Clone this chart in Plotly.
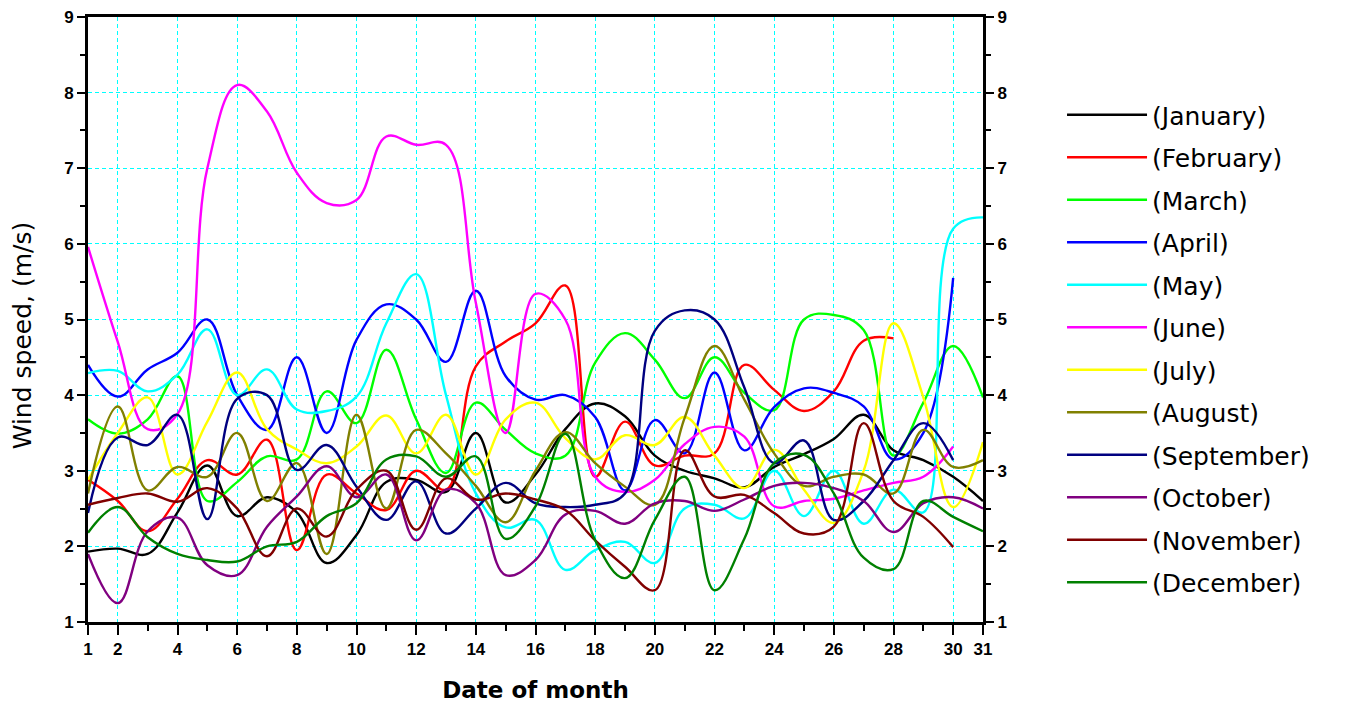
import plotly.graph_objects as go

days = list(range(1, 32))

month_names = ["(January)", "(February)", "(March)", "(April)", "(May)", "(June)",
               "(July)", "(August)", "(September)", "(October)", "(November)", "(December)"]

january = [1.93, 1.97, 1.90, 2.45, 3.07, 2.40, 2.65, 2.45, 1.78, 2.15, 2.85, 2.88, 2.72, 3.50, 2.58, 2.95,
           3.55, 3.89, 3.72, 3.20, 3.00, 2.90, 2.78, 3.05, 3.22, 3.42, 3.74, 3.27, 3.14, 2.92, 2.60]
february = [2.88, 2.60, 2.20, 2.63, 3.14, 2.95, 3.41, 1.95, 2.95, 2.70, 2.48, 3.00, 2.75, 4.38, 4.71, 4.95,
            5.45, 2.92, 3.65, 3.07, 3.20, 3.23, 4.40, 4.07, 3.79, 4.05, 4.72, 4.75]
march = [3.68, 3.49, 3.68, 4.25, 2.60, 2.85, 3.19, 3.15, 4.05, 3.63, 4.60, 3.68, 2.97, 3.90, 3.54, 3.23,
         3.20, 4.43, 4.82, 4.47, 3.96, 4.50, 4.03, 3.80, 5.00, 5.06, 4.86, 3.20, 3.90, 4.65, 3.97]
april = [4.40, 3.98, 4.34, 4.56, 5.00, 4.00, 3.54, 4.50, 3.50, 4.73, 5.20, 5.00, 4.44, 5.38, 4.25, 3.94,
         4.00, 3.71, 2.74, 3.67, 3.23, 4.30, 3.27, 3.84, 4.09, 4.03, 3.85, 3.15, 3.50, 5.55]
may = [4.29, 4.32, 4.05, 4.27, 4.87, 4.00, 4.34, 3.81, 3.79, 3.98, 4.95, 5.60, 4.00, 2.70, 2.25, 2.35,
       1.69, 1.95, 2.06, 1.78, 2.50, 2.55, 2.37, 3.00, 2.40, 3.00, 2.30, 2.75, 2.45, 6.20, 6.35]
june = [5.96, 4.70, 3.55, 3.75, 7.00, 8.10, 7.75, 6.94, 6.54, 6.58, 7.42, 7.31, 7.31, 5.22, 3.50, 5.34,
        5.00, 2.92, 2.72, 2.88, 3.35, 3.58, 3.45, 2.53, 2.60, 2.63, 2.74, 2.84, 2.92, 3.32]
july = [2.88, 3.50, 3.97, 2.95, 3.65, 4.30, 3.55, 3.28, 3.10, 3.32, 3.73, 3.23, 3.74, 2.95, 3.68, 3.90,
        3.43, 3.15, 3.47, 3.34, 3.71, 3.20, 2.77, 3.28, 2.75, 2.31, 3.00, 4.95, 3.97, 2.52, 3.38]
august = [2.70, 3.85, 2.74, 3.05, 2.92, 3.50, 2.60, 3.10, 1.90, 3.74, 2.50, 3.54, 3.23, 2.80, 2.32, 3.00,
          3.51, 3.10, 2.79, 2.55, 3.70, 4.65, 3.94, 3.23, 2.80, 2.92, 2.95, 2.70, 3.54, 3.05, 3.14]
september = [2.44, 3.44, 3.34, 3.74, 2.36, 3.95, 4.00, 3.01, 3.34, 2.79, 2.35, 2.86, 2.17, 2.50, 2.84, 2.57,
             2.52, 2.55, 2.70, 4.85, 5.12, 5.00, 4.10, 3.10, 3.40, 2.35, 2.60, 3.14, 3.63, 3.14]
october = [1.90, 1.25, 2.20, 2.38, 1.75, 1.62, 2.26, 2.66, 3.06, 2.65, 2.95, 2.08, 2.75, 2.57, 1.62, 1.82,
           2.42, 2.47, 2.30, 2.57, 2.60, 2.47, 2.62, 2.80, 2.84, 2.77, 2.60, 2.19, 2.57, 2.65, 2.50]
november = [2.55, 2.64, 2.70, 2.59, 2.77, 2.50, 1.87, 2.50, 2.13, 2.75, 3.00, 2.22, 2.90, 2.62, 2.70, 2.62,
            2.48, 2.08, 1.73, 1.42, 3.27, 2.66, 2.68, 2.44, 2.17, 2.26, 3.63, 2.60, 2.39, 1.99]
december = [2.18, 2.52, 2.12, 1.90, 1.82, 1.80, 2.00, 2.06, 2.40, 2.57, 3.15, 3.19, 2.92, 3.19, 2.10, 2.53,
            3.49, 2.08, 1.58, 2.35, 2.92, 1.42, 2.10, 3.10, 3.21, 2.70, 1.85, 1.70, 2.60, 2.39, 2.20]

series = [january, february, march, april, may, june, july, august, september, october, november, december]
colors = ["#000000", "#ff0000", "#00ff00", "#0000ff", "#00ffff", "#ff00ff",
          "#ffff00", "#808000", "#000080", "#800080", "#800000", "#008000"]

x_tick_vals = [1, 2, 4, 6, 8, 10, 12, 14, 16, 18, 20, 22, 24, 26, 28, 30, 31]
x_minor_vals = [3, 5, 7, 9, 11, 13, 15, 17, 19, 21, 23, 25, 27, 29]

FONT = "Arial, Liberation Sans, sans-serif"
WIDE = "DejaVu Sans, Verdana, sans-serif"

fig = go.Figure()
for name, vals, col in zip(month_names, series, colors):
    fig.add_trace(go.Scatter(
        x=days[:len(vals)], y=vals, mode="lines", name=name, legendgroup=name,
        line=dict(color=col, width=2.4, shape="spline", smoothing=1.1),
    ))
# anchor trace for the mirrored right-hand axis
fig.add_trace(go.Scatter(x=[None], y=[None], yaxis="y2", showlegend=False, hoverinfo="skip"))

tick_font = dict(family=FONT, size=17, color="black", weight="bold")

fig.update_layout(
    width=1345, height=706,
    margin=dict(l=88, r=362, t=17, b=84),
    paper_bgcolor="white", plot_bgcolor="white",
    showlegend=True,
    legend=dict(
        x=1.0883, y=0.876, xanchor="left", yanchor="top",
        font=dict(family=WIDE, size=25, color="black"),
        traceorder="grouped", tracegroupgap=7, itemwidth=80,
        bgcolor="rgba(0,0,0,0)",
    ),
    xaxis=dict(
        range=[1, 31], tickmode="array", tickvals=x_tick_vals,
        ticktext=[str(v) for v in x_tick_vals],
        ticks="outside", ticklen=10, tickwidth=2, tickcolor="black",
        minor=dict(tickmode="array", tickvals=x_minor_vals, ticks="outside", ticklen=6, tickwidth=2,
                   tickcolor="black", showgrid=False),
        showline=True, linecolor="black", linewidth=3, mirror=True,
        showgrid=True, gridcolor="#00ffff", gridwidth=1, griddash="4px,3px",
        zeroline=False, tickfont=tick_font, automargin=False,
        title=dict(text="Date of month", font=dict(family=WIDE, size=23, color="black", weight="bold"),
                   standoff=24),
    ),
    yaxis=dict(
        range=[1, 9], dtick=1, tick0=1,
        ticks="outside", ticklen=8, tickwidth=2, tickcolor="black",
        minor=dict(dtick=0.5, tick0=1, ticks="outside", ticklen=5, tickwidth=2, tickcolor="black",
                   showgrid=False),
        showline=True, linecolor="black", linewidth=3,
        showgrid=True, gridcolor="#00ffff", gridwidth=1, griddash="4px,3px",
        zeroline=False, tickfont=tick_font, automargin=False,
    ),
    yaxis2=dict(
        range=[1, 9], dtick=1, tick0=1, overlaying="y", side="right",
        ticks="outside", ticklen=8, tickwidth=2, tickcolor="black",
        minor=dict(dtick=0.5, tick0=1, ticks="outside", ticklen=5, tickwidth=2, tickcolor="black",
                   showgrid=False),
        showline=True, linecolor="black", linewidth=3,
        showgrid=False, zeroline=False, tickfont=tick_font, automargin=False,
    ),
    annotations=[dict(
        text="Wind speed, (m/s)", textangle=-90, showarrow=False,
        xref="paper", yref="paper", x=-0.0737, y=0.474, xanchor="center", yanchor="middle",
        font=dict(family=WIDE, size=25, color="black"),
    )],
)

fig.write_html("out.html")
